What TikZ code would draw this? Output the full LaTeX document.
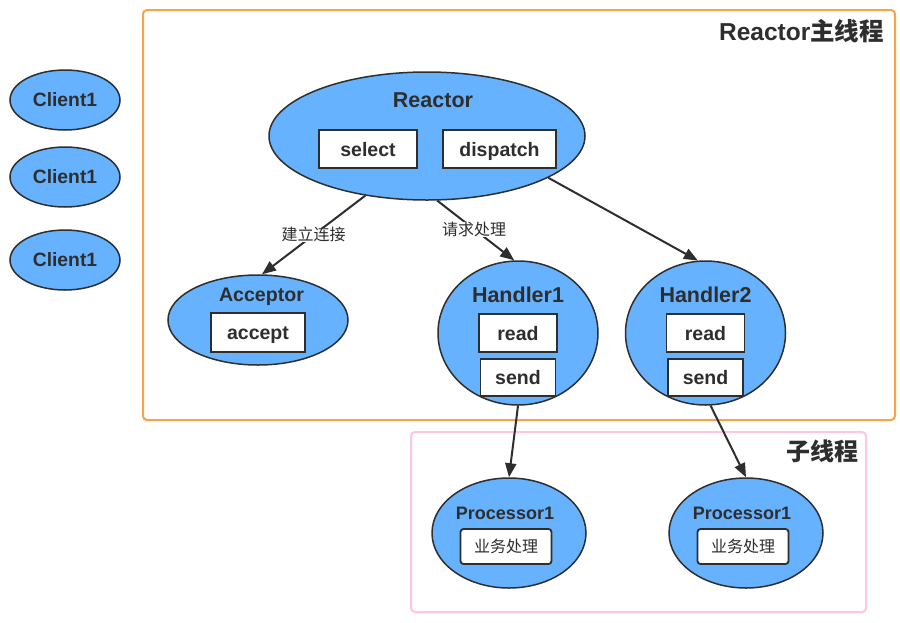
\documentclass[tikz,border=0pt]{standalone}
\usepackage{fontspec}
\setmainfont{Liberation Sans}
\newfontfamily\cjk{Noto Sans CJK SC}
\usetikzlibrary{shapes.geometric, arrows.meta}

\definecolor{nodeblue}{HTML}{66B2FF}
\definecolor{inkgray}{HTML}{2E2E2E}
\definecolor{mainorange}{HTML}{F8A346}
\definecolor{subpink}{HTML}{FFC6E2}

\begin{document}
\begin{tikzpicture}[x=1pt, y=-1pt,
  every node/.style={text=inkgray},
  bold/.style={font=\bfseries\fontsize{#1}{#1}\selectfont, text height={0.72*#1}, text depth=0pt},
  han/.style={font=\cjk\fontsize{#1}{#1}\selectfont, text height={0.72*#1}, text depth=0pt},
  blob/.style={ellipse, draw=inkgray, line width=1.5pt, fill=nodeblue, inner sep=0pt},
  opbox/.style={rectangle, draw=inkgray, line width=1.8pt, fill=white, inner sep=0pt, bold=19.5},
  link/.style={draw=inkgray, line width=2pt, -{Triangle[length=14pt, width=11pt]}},
  tag/.style={han=16, fill=white, inner sep=1.5pt}]

  \useasboundingbox (0,0) rectangle (900,622);

  % thread frames
  \draw[mainorange, line width=2pt, rounded corners=4pt] (143,10) rectangle (895,420);
  \draw[subpink, line width=2pt, rounded corners=4pt] (411,432) rectangle (866,612);
  \node[anchor=east, inner sep=0pt, bold=24.5] (maintitle) at (884,32) {Reactor{\cjk 主线程}};
  \node[anchor=east, inner sep=0pt, bold=24, font=\cjk\bfseries\fontsize{24}{24}\selectfont] (subtitle) at (859,452) {子线程};

  % clients
  \foreach \n/\y in {1/100,2/177,3/260} {
    \node[blob, minimum width=110, minimum height=60, bold=19.3] (client\n) at (65,\y) {Client1};
  }

  % reactor
  \node[blob, minimum width=316, minimum height=128] (reactor) at (427,136) {};
  \node[bold=21.5] (reactortitle) at (433,100) {Reactor};
  \node[opbox, minimum width=98, minimum height=38] (select) at (368,149) {select};
  \node[opbox, minimum width=113, minimum height=38] (dispatch) at (499.5,149) {dispatch};

  % acceptor
  \node[blob, minimum width=180, minimum height=90] (acceptor) at (258,320) {};
  \node[bold=19.6] (acceptortitle) at (261.5,294.5) {Acceptor};
  \node[opbox, minimum width=94, minimum height=39] (accept) at (258,332.5) {accept};

  % handlers
  \foreach \n/\x in {1/518,2/705.5} {
    \node[blob, minimum width=160, minimum height=144] (handler\n) at (\x,333) {};
    \node[bold=21.5] (handlertitle\n) at (\x,294.5) {Handler\n};
    \node[opbox, minimum width=78, minimum height=38] (read\n) at (\x,333) {read};
    \node[opbox, minimum width=75, minimum height=37] (send\n) at (\x,377.5) {send};
  }

  % processors
  \foreach \n/\x in {1/509,2/746} {
    \node[blob, minimum width=154, minimum height=110] (proc\n) at (\x,533) {};
    \node[bold=18] (proctitle\n) at (\x-4,513) {Processor1};
    \node[opbox, rounded corners=3pt, han=16, minimum width=91, minimum height=35] (work\n) at (\x-3,546.5) {业务处理};
  }

  % connectors
  \draw[link] (reactor.224) -- node[tag] {建立连接} (acceptor.85);
  \draw[link] (reactor.279) -- node[tag, pos=0.48] {请求处理} (handler1.93);
  \draw[link] (reactor.341) -- (handler2.96);
  \draw[link] (handler1.270) -- (proc1.90);
  \draw[link] (handler2.274) -- (proc2.90);
\end{tikzpicture}
\end{document}
